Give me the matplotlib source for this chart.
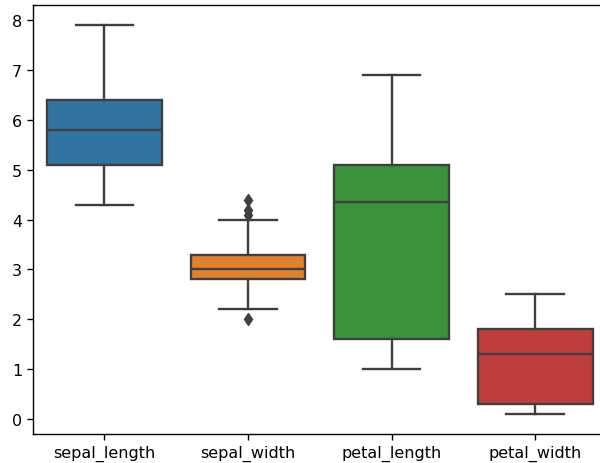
"""
Iris box plot: distribution of the four measurements.
"""

import matplotlib
matplotlib.use("Agg")
import matplotlib.pyplot as plt


# ------------------------------------------------------------
# Data (box statistics)
# ------------------------------------------------------------

FEATURES = ["sepal_length", "sepal_width", "petal_length", "petal_width"]

LOWER_WHISKER = [4.3, 2.2, 1.0, 0.1]
Q1 = [5.1, 2.8, 1.6, 0.3]
MEDIAN = [5.8, 3.0, 4.35, 1.3]
Q3 = [6.4, 3.3, 5.1, 1.8]
UPPER_WHISKER = [7.9, 4.0, 6.9, 2.5]
OUTLIERS = [[], [4.4, 4.1, 4.2, 2.0], [], []]

BOX_COLORS = ["#3274a1", "#e1812c", "#3a923a", "#c03d3e"]
LINE_COLOR = "#3f3f3f"
LW = 1.7


def box_stats():
    stats = []
    for i, name in enumerate(FEATURES):
        stats.append({
            "label": name,
            "whislo": LOWER_WHISKER[i],
            "q1": Q1[i],
            "med": MEDIAN[i],
            "q3": Q3[i],
            "whishi": UPPER_WHISKER[i],
            "fliers": OUTLIERS[i],
        })
    return stats


def main():
    fig = plt.figure(figsize=(6, 4.64), dpi=100)
    # the right spine falls just outside the saved picture, as in the original crop
    ax = fig.add_axes([0.0545, 0.0625, 0.957, 0.924])

    line_props = {"color": LINE_COLOR, "linewidth": LW}
    result = ax.bxp(
        box_stats(),
        positions=range(len(FEATURES)),
        widths=0.8,
        patch_artist=True,
        boxprops={"edgecolor": LINE_COLOR, "linewidth": LW},
        whiskerprops=line_props,
        capprops=line_props,
        medianprops=line_props,
        flierprops={
            "marker": "d",
            "markersize": 6,
            "markerfacecolor": LINE_COLOR,
            "markeredgecolor": LINE_COLOR,
            "linestyle": "none",
        },
    )
    for patch, color in zip(result["boxes"], BOX_COLORS):
        patch.set_facecolor(color)

    ax.set_xlim(-0.5, len(FEATURES) - 0.5)
    ax.set_ylim(-0.3, 8.3)
    ax.set_yticks(range(0, 9))
    ax.tick_params(labelsize=11.5, width=1.0, length=4)
    for spine in ax.spines.values():
        spine.set_linewidth(1.0)

    fig.savefig("out.png", dpi=100)


if __name__ == "__main__":
    main()
